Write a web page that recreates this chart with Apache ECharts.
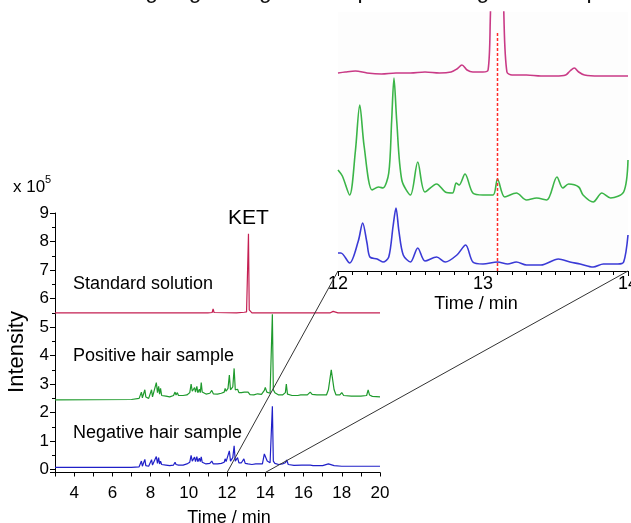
<!DOCTYPE html>
<html><head><meta charset="utf-8">
<script src="https://cdn.jsdelivr.net/npm/echarts/dist/echarts.min.js"></script>
<style>html,body{margin:0;padding:0;background:#fff}#c{width:631px;height:523px}</style>
</head><body><div id="c"></div>
<script>
const FONT = "'Liberation Sans', Arial, sans-serif";

// main chromatogram axes
const mainXRange = [3, 20];
const mainYRange = [-0.1, 9];
// zoomed inset axis
const insetXRange = [12, 14];
const insetYRange = [0, 259];
const zoomWindow = [12, 14];
const ketTime = 13.1;

// main traces [time (min), intensity x1e5]
const standardMain = [[3,5.5],[11.0,5.5],[11.22,5.51],[11.27,5.64],[11.32,5.51],[12.5,5.5],[12.9,5.52],[13.02,5.53],[13.08,5.6],[13.12,8.27],[13.16,5.6],[13.22,5.53],[13.3,5.5],[17.4,5.5],[17.55,5.55],[17.65,5.56],[17.8,5.5],[20,5.5]];

const positiveMain = [[3,2.45],[7.0,2.46],[7.4,2.5],[7.47,2.5],[7.52,2.72],[7.57,2.52],[7.65,2.52],[7.7,2.8],[7.75,2.55],[7.85,2.55],[7.9,2.5],[8.0,2.55],[8.05,2.8],[8.1,2.55],[8.2,2.6],[8.3,3.05],[8.36,2.7],[8.42,2.92],[8.47,2.65],[8.52,2.85],[8.58,2.6],[8.8,2.58],[9.0,2.55],[9.2,2.6],[9.28,2.72],[9.33,2.62],[9.4,2.7],[9.46,2.6],[9.7,2.6],[9.9,2.62],[10.05,2.7],[10.12,3.0],[10.18,2.75],[10.25,2.75],[10.3,2.88],[10.35,2.72],[10.42,2.92],[10.47,2.7],[10.55,2.82],[10.6,2.7],[10.65,3.05],[10.7,2.72],[10.8,2.7],[10.9,2.65],[11.1,2.68],[11.2,2.78],[11.28,2.66],[11.5,2.65],[11.7,2.68],[11.85,2.72],[11.9,2.85],[11.95,2.75],[12.05,2.85],[12.12,3.32],[12.18,2.8],[12.25,2.8],[12.3,2.9],[12.37,3.55],[12.43,2.8],[12.5,2.75],[12.55,2.82],[12.62,2.7],[12.75,2.7],[12.9,2.72],[13.0,2.65],[13.1,2.72],[13.2,2.63],[13.4,2.62],[13.6,2.66],[13.7,2.72],[13.8,2.64],[13.95,2.78],[14.0,2.88],[14.08,2.72],[14.25,2.68],[14.32,2.75],[14.37,5.45],[14.42,2.8],[14.5,2.7],[14.7,2.62],[14.9,2.62],[15.05,2.7],[15.1,3.0],[15.16,2.65],[15.4,2.6],[15.7,2.6],[15.85,2.62],[15.9,2.68],[15.95,2.6],[16.2,2.62],[16.35,2.72],[16.4,2.76],[16.45,2.64],[16.7,2.62],[16.75,2.66],[16.8,2.6],[17.2,2.62],[17.3,2.8],[17.45,3.5],[17.6,2.8],[17.7,2.62],[17.9,2.62],[18.0,2.7],[18.1,2.6],[18.5,2.58],[19.0,2.58],[19.3,2.6],[19.38,2.8],[19.45,2.62],[19.6,2.57],[20,2.55]];

const negativeMain = [[3,0.08],[7.0,0.08],[7.4,0.1],[7.47,0.1],[7.52,0.3],[7.57,0.12],[7.65,0.12],[7.7,0.36],[7.75,0.14],[7.85,0.14],[7.9,0.12],[8.0,0.15],[8.05,0.35],[8.1,0.16],[8.2,0.2],[8.3,0.46],[8.36,0.22],[8.42,0.42],[8.47,0.2],[8.52,0.3],[8.58,0.18],[8.8,0.16],[9.0,0.14],[9.2,0.16],[9.28,0.26],[9.33,0.18],[9.4,0.24],[9.46,0.16],[9.7,0.16],[9.9,0.2],[10.05,0.26],[10.12,0.5],[10.18,0.3],[10.25,0.28],[10.3,0.44],[10.35,0.28],[10.42,0.46],[10.47,0.28],[10.55,0.4],[10.6,0.28],[10.65,0.45],[10.7,0.26],[10.8,0.25],[10.9,0.2],[11.1,0.22],[11.2,0.3],[11.28,0.2],[11.5,0.2],[11.7,0.22],[11.85,0.26],[11.9,0.38],[11.95,0.28],[12.05,0.32],[12.12,0.66],[12.18,0.3],[12.25,0.3],[12.3,0.42],[12.37,0.84],[12.43,0.3],[12.5,0.28],[12.55,0.42],[12.62,0.24],[12.75,0.24],[12.88,0.38],[12.95,0.22],[13.1,0.2],[13.3,0.18],[13.5,0.2],[13.6,0.26],[13.7,0.2],[13.85,0.2],[13.95,0.55],[14.02,0.6],[14.1,0.3],[14.25,0.24],[14.32,0.3],[14.37,2.22],[14.42,0.3],[14.5,0.22],[14.7,0.18],[14.9,0.2],[15.05,0.24],[15.12,0.34],[15.2,0.18],[15.5,0.15],[15.9,0.16],[16.35,0.16],[16.42,0.22],[16.5,0.14],[17.0,0.14],[17.3,0.2],[17.6,0.14],[18.0,0.12],[19.0,0.12],[20,0.12]];

// inset traces [time (min), relative signal]
const standardInset = [[12.0,198],[12.05,199],[12.12,200],[12.2,198],[12.3,197],[12.4,198],[12.5,198],[12.6,199],[12.7,198],[12.78,199],[12.82,202],[12.855,206],[12.89,201],[12.93,199],[13.0,199],[13.035,201],[13.05,250],[13.1,560],[13.145,250],[13.165,199],[13.2,196],[13.3,196],[13.4,195],[13.5,195],[13.57,196],[13.6,200],[13.63,203],[13.66,199],[13.7,196],[13.8,195],[13.9,195],[14.0,195]];

const positiveInset = [[12.0,101],[12.03,95],[12.08,76],[12.12,120],[12.15,166],[12.18,125],[12.235,81],[12.28,84],[12.31,83],[12.35,98],[12.37,150],[12.386,193],[12.405,150],[12.44,91],[12.5,76],[12.55,109],[12.6,79],[12.68,87],[12.74,79],[12.79,78],[12.815,88],[12.835,86],[12.876,97],[12.93,78],[13.0,76],[13.07,76],[13.1,92],[13.15,74],[13.23,78],[13.3,71],[13.37,73],[13.44,71],[13.51,94],[13.55,83],[13.59,87],[13.66,84],[13.69,76],[13.76,69],[13.82,78],[13.88,73],[13.97,79],[14.0,111]];

const negativeInset = [[12.0,18],[12.02,18],[12.08,8],[12.14,30],[12.17,48],[12.2,28],[12.22,14],[12.27,12],[12.31,9],[12.35,14],[12.38,45],[12.4,63],[12.42,40],[12.45,16],[12.5,9],[12.55,23],[12.6,10],[12.68,14],[12.74,9],[12.82,16],[12.88,26],[12.93,9],[13.0,7],[13.1,9],[13.17,7],[13.23,9],[13.3,6],[13.4,6],[13.52,12],[13.6,9],[13.67,7],[13.76,4],[13.83,7],[13.93,7],[13.97,9],[14.0,36]];

const ketMarker = [[ketTime, 0], [ketTime, 238]];

const traceNames = ['Standard solution', 'Positive hair sample', 'Negative hair sample'];
const mainColors = ['#c41f52', '#1f9a2d', '#2020c8'];
const insetColors = ['#c93a86', '#3bb548', '#3a3ad6'];

const chart = echarts.init(document.getElementById('c'), null, {renderer: 'canvas'});

function mainSeries(data, color) {
  return {type: 'line', xAxisIndex: 0, yAxisIndex: 0, data, symbol: 'none', showSymbol: false,
    lineStyle: {color, width: 1.2}, itemStyle: {color}, z: 3, silent: true};
}
function insetSeries(data, color) {
  return {type: 'line', xAxisIndex: 1, yAxisIndex: 1, data, symbol: 'none', showSymbol: false,
    smooth: 0.3, clip: true,
    lineStyle: {color, width: 1.6}, itemStyle: {color}, z: 3, silent: true};
}

const axisText = {color: '#000', fontSize: 17, fontFamily: FONT};

chart.setOption({
  animation: false,
  backgroundColor: '#fff',
  grid: [
    {left: 55, top: 213, width: 325, height: 259.5, outerBoundsMode: 'none', containLabel: false},
    {left: 338, top: 12, width: 290, height: 259, outerBoundsMode: 'none', containLabel: false,
     show: true, backgroundColor: '#fdfdfd', borderWidth: 0}
  ],
  xAxis: [
    {type: 'value', gridIndex: 0, min: mainXRange[0], max: mainXRange[1], interval: 1,
     axisLine: {show: true, onZero: false, lineStyle: {color: '#000', width: 1}},
     axisTick: {show: true, length: 4, lineStyle: {color: '#000'}},
     axisLabel: Object.assign({margin: 12, formatter: v => (v % 2 === 0 ? String(v) : '')}, axisText),
     splitLine: {show: false}},
    {type: 'value', gridIndex: 1, min: insetXRange[0], max: insetXRange[1], interval: 1,
     axisLine: {show: true, onZero: false, lineStyle: {color: '#000', width: 1}},
     axisTick: {show: true, length: 5, lineStyle: {color: '#000'}},
     minorTick: {show: true, splitNumber: 10, length: 4, lineStyle: {color: '#000'}},
     axisLabel: Object.assign({margin: 4}, axisText, {fontSize: 18}),
     splitLine: {show: false}}
  ],
  yAxis: [
    {type: 'value', gridIndex: 0, min: mainYRange[0], max: mainYRange[1], splitNumber: 9,
     minInterval: 1, maxInterval: 1,
     axisLine: {show: true, onZero: false, lineStyle: {color: '#000', width: 1}},
     axisTick: {show: true, length: 5, lineStyle: {color: '#000'}},
     minorTick: {show: true, splitNumber: 2, length: 3, lineStyle: {color: '#000'}},
     axisLabel: Object.assign({margin: 6, formatter: v => (v < 0 ? '' : String(v))}, axisText),
     splitLine: {show: false}},
    {type: 'value', gridIndex: 1, min: insetYRange[0], max: insetYRange[1], show: false,
     splitLine: {show: false}}
  ],
  series: [
    mainSeries(standardMain, mainColors[0]),
    mainSeries(positiveMain, mainColors[1]),
    mainSeries(negativeMain, mainColors[2]),
    insetSeries(standardInset, insetColors[0]),
    insetSeries(positiveInset, insetColors[1]),
    insetSeries(negativeInset, insetColors[2]),
    {type: 'line', xAxisIndex: 1, yAxisIndex: 1, data: ketMarker, symbol: 'none', z: 4, silent: true,
     lineStyle: {color: '#ff2a2a', width: 1.5, type: [3, 2]}}
  ]
});

function txt(text, x, y, size, opts) {
  return Object.assign({type: 'text', silent: true, z: 10, style: Object.assign({
    text, x, y, fill: '#000', fontSize: size, fontFamily: FONT, verticalAlign: 'middle', align: 'left'
  }, opts && opts.style || {})}, opts && opts.el || {});
}

const a1 = chart.convertToPixel({gridIndex: 0}, [zoomWindow[0], mainYRange[0]]);
const a2 = chart.convertToPixel({gridIndex: 0}, [zoomWindow[1], mainYRange[0]]);
const b1 = chart.convertToPixel({gridIndex: 1}, [zoomWindow[0], insetYRange[0]]);
const b2 = chart.convertToPixel({gridIndex: 1}, [zoomWindow[1], insetYRange[0]]);

chart.setOption({
  graphic: [
    txt('Detail zooming segment gives the peak in the green and pink traces', 6, -8, 23, {style: {fill: '#111'}}),
    txt('x 10', 13, 187, 17),
    txt('5', 45, 180, 11),
    txt('Intensity', 0, 0, 22, {style: {align: 'center'}, el: {rotation: Math.PI / 2, x: 17, y: 352}}),
    txt('KET', 248.5, 218, 21, {style: {align: 'center'}}),
    txt(traceNames[0], 73, 284, 18),
    txt(traceNames[1], 73, 356, 18),
    txt(traceNames[2], 73, 433, 18),
    txt('Time / min', 229, 518, 18, {style: {align: 'center'}}),
    txt('Time / min', 476, 304, 18, {style: {align: 'center'}}),
    {type: 'line', silent: true, z: 5, shape: {x1: a1[0], y1: a1[1], x2: b1[0], y2: b1[1]},
     style: {stroke: '#333', lineWidth: 1}},
    {type: 'line', silent: true, z: 5, shape: {x1: a2[0], y1: a2[1], x2: b2[0], y2: b2[1]},
     style: {stroke: '#333', lineWidth: 1}}
  ]
});
</script></body></html>
